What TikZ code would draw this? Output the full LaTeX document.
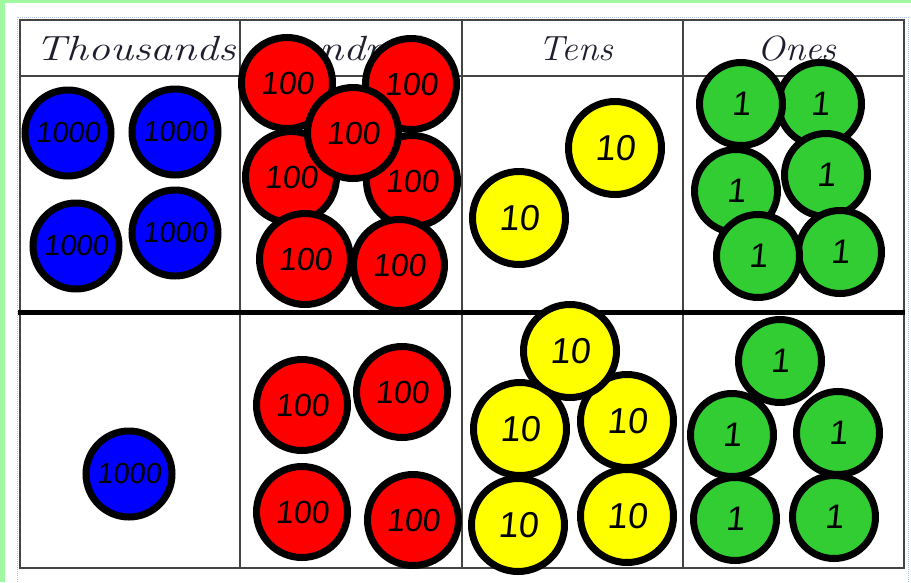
\documentclass[tikz,border=0pt]{standalone}
\usepackage{fontspec}
\usepackage{graphicx}
\usepackage{tikz}
\usetikzlibrary{positioning}
\newfontfamily\coinfont{Liberation Sans}[FakeSlant=0.1]
\definecolor{CoinBlue}{HTML}{0000FF}
\definecolor{CoinRed}{HTML}{FF0000}
\definecolor{CoinYellow}{HTML}{FFFF00}
\definecolor{CoinGreen}{HTML}{32CD32}
\definecolor{EdgeGreen}{HTML}{A0F8A0}
\definecolor{GridInk}{HTML}{444444}
\definecolor{DotBlue}{HTML}{A8C0EC}
\definecolor{HeadInk}{HTML}{1E1E2E}
\newcommand{\wide}[2][1.2]{\scalebox{#1}[1]{#2}}

\begin{document}
\begin{tikzpicture}[x=1pt,y=-1pt,
  coin/.style={circle,draw=black,line width=7pt,inner sep=0pt},
  thcoin/.style={coin,fill=CoinBlue,minimum size=86pt,font=\coinfont\fontsize{29}{29}\selectfont},
  hucoin/.style={coin,fill=CoinRed,minimum size=91pt,font=\coinfont\fontsize{32}{32}\selectfont},
  tecoin/.style={coin,fill=CoinYellow,minimum size=93pt,font=\coinfont\fontsize{36}{36}\selectfont},
  oncoin/.style={coin,fill=CoinGreen,minimum size=83pt,font=\coinfont\fontsize{34}{34}\selectfont},
  head/.style={anchor=base,text=HeadInk,font=\fontsize{35}{35}\selectfont\itshape}]
  \useasboundingbox (0,0) rectangle (911,582);
  % page edge
  \fill[EdgeGreen] (0,0) rectangle (5,582);
  \fill[EdgeGreen] (0,0) rectangle (911,2.5);
  \draw[DotBlue,densely dotted,line width=1pt] (17,582) -- (17,17) -- (908,17) -- (908,582);
  % table
  \draw[GridInk,line width=2pt] (20,20) rectangle (904,568);
  \draw[GridInk,line width=2pt] (20,76) -- (904,76);
  \draw[GridInk,line width=2pt] (240,20) -- (240,568);
  \draw[GridInk,line width=2pt] (462,20) -- (462,568);
  \draw[GridInk,line width=2pt] (683,20) -- (683,568);
  \draw[black,line width=5pt] (18,312) -- (905,312);
  % headings
  \node[head] (hThousands) at (136,60) {\wide[1.25]{Thousands}};
  \node[head] (hHundreds) at (351,60) {\wide[1.25]{Hundreds}};
  \node[head] (hTens) at (576,60) {\wide[1.05]{Tens}};
  \node[head] (hOnes) at (797,60) {\wide[1.05]{Ones}};
  % thousands
  \begin{scope}
    \node[thcoin] (th1) at (68,133) {1000};
    \node[thcoin] (th2) at (175,132) {1000};
    \node[thcoin] (th3) at (76,246) {1000};
    \node[thcoin] (th4) at (175,233) {1000};
    \node[thcoin] (th5) at (129,474) {1000};
  \end{scope}
  % hundreds
  \begin{scope}
    \node[hucoin] (hu1) at (287,83) {100};
    \node[hucoin] (hu2) at (411,84) {100};
    \node[hucoin] (hu4) at (291,177) {100};
    \node[hucoin] (hu5) at (412,181) {100};
    \node[hucoin] (hu3) at (353,133) {100};
    \node[hucoin] (hu6) at (305,259) {100};
    \node[hucoin] (hu7) at (399,265) {100};
    \node[hucoin] (hu8) at (302,405) {100};
    \node[hucoin] (hu9) at (402,392) {100};
    \node[hucoin] (hu10) at (302,512) {100};
    \node[hucoin] (hu11) at (413,520) {100};
  \end{scope}
  % tens
  \begin{scope}
    \node[tecoin] (te1) at (615,148) {10};
    \node[tecoin] (te2) at (519,218) {10};
    \node[tecoin] (te4) at (520,429) {10};
    \node[tecoin] (te5) at (627,421) {10};
    \node[tecoin] (te3) at (570,351) {10};
    \node[tecoin] (te6) at (518,525) {10};
    \node[tecoin] (te7) at (627,516) {10};
  \end{scope}
  % ones
  \begin{scope}
    \node[oncoin] (on2) at (820,104) {1};
    \node[oncoin] (on1) at (741,104) {1};
    \node[oncoin] (on3) at (736,191) {1};
    \node[oncoin] (on4) at (826,175) {1};
    \node[oncoin] (on6) at (840,252) {1};
    \node[oncoin] (on5) at (758,256) {1};
    \node[oncoin] (on8) at (732,435) {1};
    \node[oncoin] (on9) at (838,433) {1};
    \node[oncoin] (on7) at (780,361) {1};
    \node[oncoin] (on10) at (735,519) {1};
    \node[oncoin] (on11) at (834,517) {1};
  \end{scope}
\end{tikzpicture}
\end{document}
